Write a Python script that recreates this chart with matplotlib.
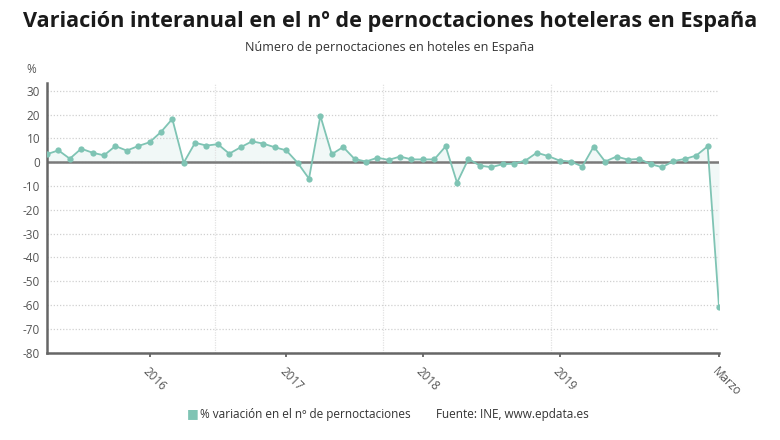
import matplotlib
matplotlib.use("Agg")
import matplotlib.pyplot as plt
import numpy as np

plt.rcParams['font.family'] = ['Open Sans', 'DejaVu Sans']

# monthly data, April 2015 .. March 2020
months = np.arange(60)
variacion = [3.4, 5.0, 1.5, 5.7, 4.0, 2.9, 6.8, 4.9, 6.8, 8.4, 12.7, 18.2,
             -0.2, 8.2, 7.0, 7.6, 3.6, 6.3, 8.8, 7.8, 6.3, 5.0, -0.2, -6.9,
             19.5, 3.4, 6.4, 1.4, 0.3, 1.9, 1.0, 2.4, 1.2, 1.2, 1.2, 6.7,
             -8.6, 1.4, -1.4, -2.1, -0.8, -0.6, 0.7, 4.0, 2.6, 0.7, 0.3, -1.8,
             6.6, 0.3, 2.4, 1.1, 1.4, -0.8, -2.1, 0.5, 1.4, 2.8, 6.7, -60.8]
tick_pos = [9, 21, 33, 45, 59]
tick_labels = ['2016', '2017', '2018', '2019', 'Marzo']
yticks = list(range(-80, 31, 10))

teal = '#7fc4b4'
grey_txt = '#555555'

fig = plt.figure(figsize=(7.8, 4.4), dpi=100)
ax = fig.add_axes([0.0603, 0.1984, 0.8615, 0.613])

ax.fill_between(months, variacion, 0, color='#e9f4f2', alpha=0.6, lw=0, zorder=1)
ax.axhline(0, color='#7a7a7a', lw=1.8, zorder=2)
ax.plot(months, variacion, color=teal, lw=1.3, marker='o', ms=4.5,
        markeredgewidth=0, zorder=3)

ax.set_xlim(0, 59)
ax.set_ylim(-80, 33.3)
ax.set_yticks(yticks)
ax.set_yticklabels([str(v) for v in yticks], fontsize=8.5, color=grey_txt)
ax.set_xticks(tick_pos)
ax.set_xticklabels(tick_labels, rotation=-45, ha='left', va='top',
                   fontsize=8.5, color=grey_txt, rotation_mode='anchor')

# dotted horizontal grid, light vertical dividers
ax.grid(axis='y', color='#d0d0d0', linestyle=(0, (1, 1.5)), lw=0.9, zorder=0)
ax.set_xticks([59 * f for f in (0.25, 0.5, 0.75, 1.0)], minor=True)
ax.grid(axis='x', which='minor', color='#e2e2e2', linestyle=(0, (1, 1)), lw=0.9, zorder=0)
ax.tick_params(axis='x', which='minor', length=0)
ax.tick_params(axis='x', which='major', length=3, width=1.2, color='#555555', pad=6)
ax.tick_params(axis='y', length=0, pad=5)

for s in ['top', 'right']:
    ax.spines[s].set_visible(False)
ax.spines['left'].set_color('#666666')
ax.spines['left'].set_linewidth(1.8)
ax.spines['bottom'].set_color('#666666')
ax.spines['bottom'].set_linewidth(1.8)

fig.text(0.5, 0.95, 'Variación interanual en el nº de pernoctaciones hoteleras en España',
         ha='center', va='center', fontsize=15.6, fontweight='bold', color='#1a1a1a')
fig.text(0.5, 0.893, 'Número de pernoctaciones en hoteles en España',
         ha='center', va='center', fontsize=9, color='#333333')
fig.text(0.040, 0.843, '%', ha='center', va='center', fontsize=8.5, color=grey_txt)

# legend row
fig.text(0.247, 0.059, '■', ha='center', va='center', fontsize=9, color=teal)
fig.text(0.257, 0.059, '% variación en el nº de pernoctaciones', ha='left',
         va='center', fontsize=8.5, color='#333333')
fig.text(0.559, 0.059, 'Fuente: INE, www.epdata.es', ha='left',
         va='center', fontsize=8.5, color='#333333')

fig.savefig('out.png', dpi=100, facecolor='white')
